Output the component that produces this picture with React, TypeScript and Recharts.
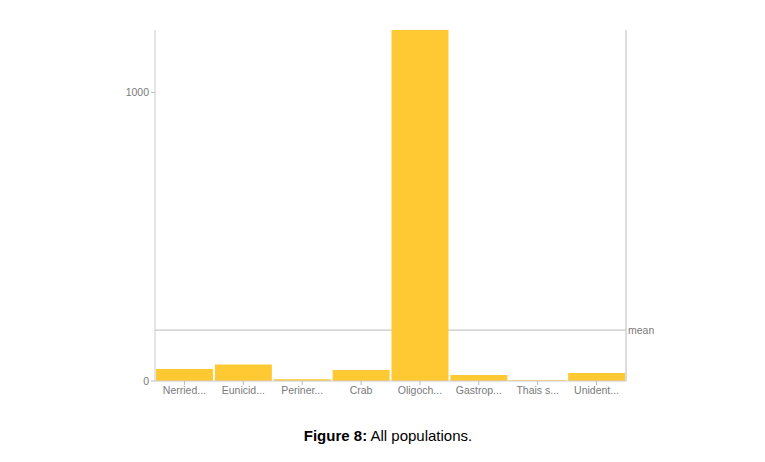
import React from "react";
import { BarChart, Bar, XAxis, YAxis, ReferenceLine } from "recharts";

const categories = ["Nerried...", "Eunicid...", "Periner...", "Crab", "Oligoch...", "Gastrop...", "Thais s...", "Unident..."];
const counts = [42, 57, 6, 38, 1217, 21, 3, 28];
const yTicks = [0, 1000];

const data = categories.map((name, i) => ({ name, value: counts[i] }));
const mean = counts.reduce((a, b) => a + b, 0) / counts.length;

const tickStyle = { fontFamily: "Liberation Sans, Arial, sans-serif", fontSize: 10.5, fill: "#7a7a7a" };

export default function App() {
  return (
    <div style={{ position: "absolute", left: 0, top: 0, width: 765, height: 462, background: "#fff" }}>
      <BarChart
        width={765}
        height={462}
        data={data}
        margin={{ top: 30, right: 138, bottom: 51, left: 0 }}
        barCategoryGap={1}
      >
        <XAxis
          dataKey="name"
          tick={tickStyle}
          tickLine={{ stroke: "#bbb" }}
          tickSize={4}
          axisLine={{ stroke: "#ccc" }}
          height={30}
          interval={0}
        />
        <YAxis
          yAxisId="left"
          width={155}
          domain={[0, "dataMax"]}
          ticks={yTicks}
          tick={tickStyle}
          tickLine={{ stroke: "#bbb" }}
          tickSize={4}
          tickMargin={2}
          axisLine={{ stroke: "#ccc" }}
        />
        <YAxis
          yAxisId="right"
          orientation="right"
          type="number"
          width={1}
          domain={[0, 1]}
          ticks={[]}
          tick={false}
          tickLine={false}
          axisLine={{ stroke: "#bbb" }}
        />
        <ReferenceLine
          yAxisId="left"
          y={mean}
          stroke="#bbb"
          zIndex={0}
          label={{ value: "mean", position: "right", offset: 2, style: tickStyle }}
        />
        <Bar yAxisId="left" dataKey="value" fill="#FFC933" isAnimationActive={false} />
      </BarChart>
      <div
        style={{
          position: "absolute",
          left: 0,
          width: 776,
          top: 427,
          textAlign: "center",
          fontFamily: "Liberation Sans, Arial, sans-serif",
          fontSize: 15,
          color: "#000",
        }}
      >
        <b>Figure 8:</b> All populations.
      </div>
    </div>
  );
}
